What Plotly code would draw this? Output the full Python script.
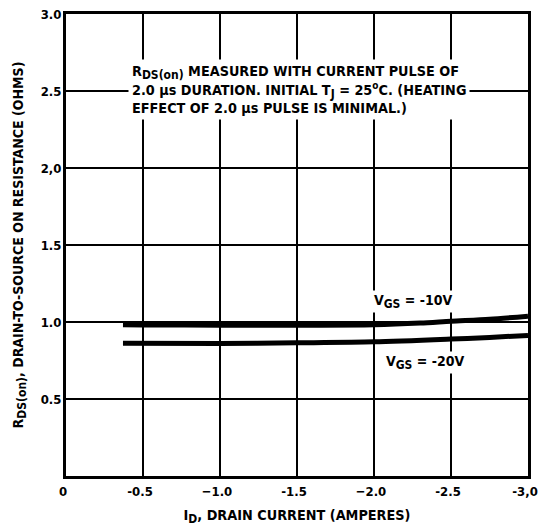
import plotly.graph_objects as go

# Data
x_vgs10 = [-0.37, -0.5, -1.0, -1.5, -2.0, -2.3, -2.5, -2.75, -3.0]
y_vgs10 = [0.982, 0.981, 0.979, 0.979, 0.982, 0.993, 1.005, 1.018, 1.038]
x_vgs20 = [-0.37, -1.0, -1.5, -2.0, -2.5, -2.75, -3.0]
y_vgs20 = [0.862, 0.861, 0.865, 0.871, 0.889, 0.900, 0.913]

x_tickvals = [0, -0.5, -1.0, -1.5, -2.0, -2.5, -3.0]
x_ticktext = ["0", "-0.5", "\u22121.0", "-1.5", "\u22122.0", "-2.5", "-3,0"]
y_tickvals = [0.5, 1.0, 1.5, 2.0, 2.5, 3.0]
y_ticktext = ["0.5", "1.0", "1.5", "2,0", "2.5", "3.0"]

FONT = "DejaVu Sans Condensed, Liberation Sans Narrow, Arial Narrow, sans-serif"
SUB = '<sub><span style="font-size:12px">%s</span></sub>'

def f(size):
    return dict(family=FONT, size=size, color="black", weight="bold")

fig = go.Figure()
for xs, ys in [(x_vgs10, y_vgs10), (x_vgs20, y_vgs20)]:
    fig.add_trace(go.Scatter(x=xs, y=ys, mode="lines",
                             line=dict(color="black", width=5, shape="spline", smoothing=0.8),
                             showlegend=False, hoverinfo="skip"))

fig.add_annotation(
    x=-0.40, y=2.71, xref="x", yref="y", xanchor="left", yanchor="top",
    text=("R" + SUB % "DS(on)" + " MEASURED WITH CURRENT PULSE OF<br>"
          "2.0 \u03bcs DURATION. INITIAL T" + SUB % "J" + " = 25<sup>o</sup>C. (HEATING<br>"
          "EFFECT OF 2.0 \u03bcs PULSE IS MINIMAL.)"),
    showarrow=False, align="left", bgcolor="white", borderpad=3, font=f(14.3))
fig.add_annotation(x=-2.25, y=1.135, xref="x", yref="y", xanchor="center", yanchor="middle",
    text="V" + SUB % "GS" + " = -10V", showarrow=False, bgcolor="white", font=f(14))
fig.add_annotation(x=-2.33, y=0.74, xref="x", yref="y", xanchor="center", yanchor="middle",
    text="V" + SUB % "GS" + " = -20V", showarrow=False, bgcolor="white", font=f(14))

fig.update_xaxes(range=[0, -3.0], tickvals=x_tickvals, ticktext=x_ticktext,
                 showgrid=True, gridcolor="black", gridwidth=1.6,
                 showline=True, linecolor="black", linewidth=3, mirror=True,
                 zeroline=False, ticks="", ticklen=0, ticklabelstandoff=1, ticklabelshift=3,
                 automargin=False, ticklabeloverflow="allow", tickfont=f(13),
                 title=dict(text="I" + SUB % "D" + ", DRAIN CURRENT (AMPERES)", standoff=13, font=f(14.3)))
fig.update_yaxes(range=[0, 3.0], tickvals=y_tickvals, ticktext=y_ticktext,
                 showgrid=True, gridcolor="black", gridwidth=1.6,
                 showline=True, linecolor="black", linewidth=3, mirror=True,
                 zeroline=False, ticks="", ticklen=0, ticklabelstandoff=-1, automargin=False,
                 ticklabeloverflow="allow", tickfont=f(13),
                 title=dict(text="R" + SUB % "DS(on)" + ", DRAIN-TO-SOURCE ON RESISTANCE (OHMS)",
                            standoff=14, font=f(14)))

fig.update_layout(width=539, height=531, margin=dict(l=66, r=11, t=14, b=55),
                  paper_bgcolor="white", plot_bgcolor="white")
fig.write_html("out.html", config={"displayModeBar": False},
               post_script="document.body.style.margin='0px';")
